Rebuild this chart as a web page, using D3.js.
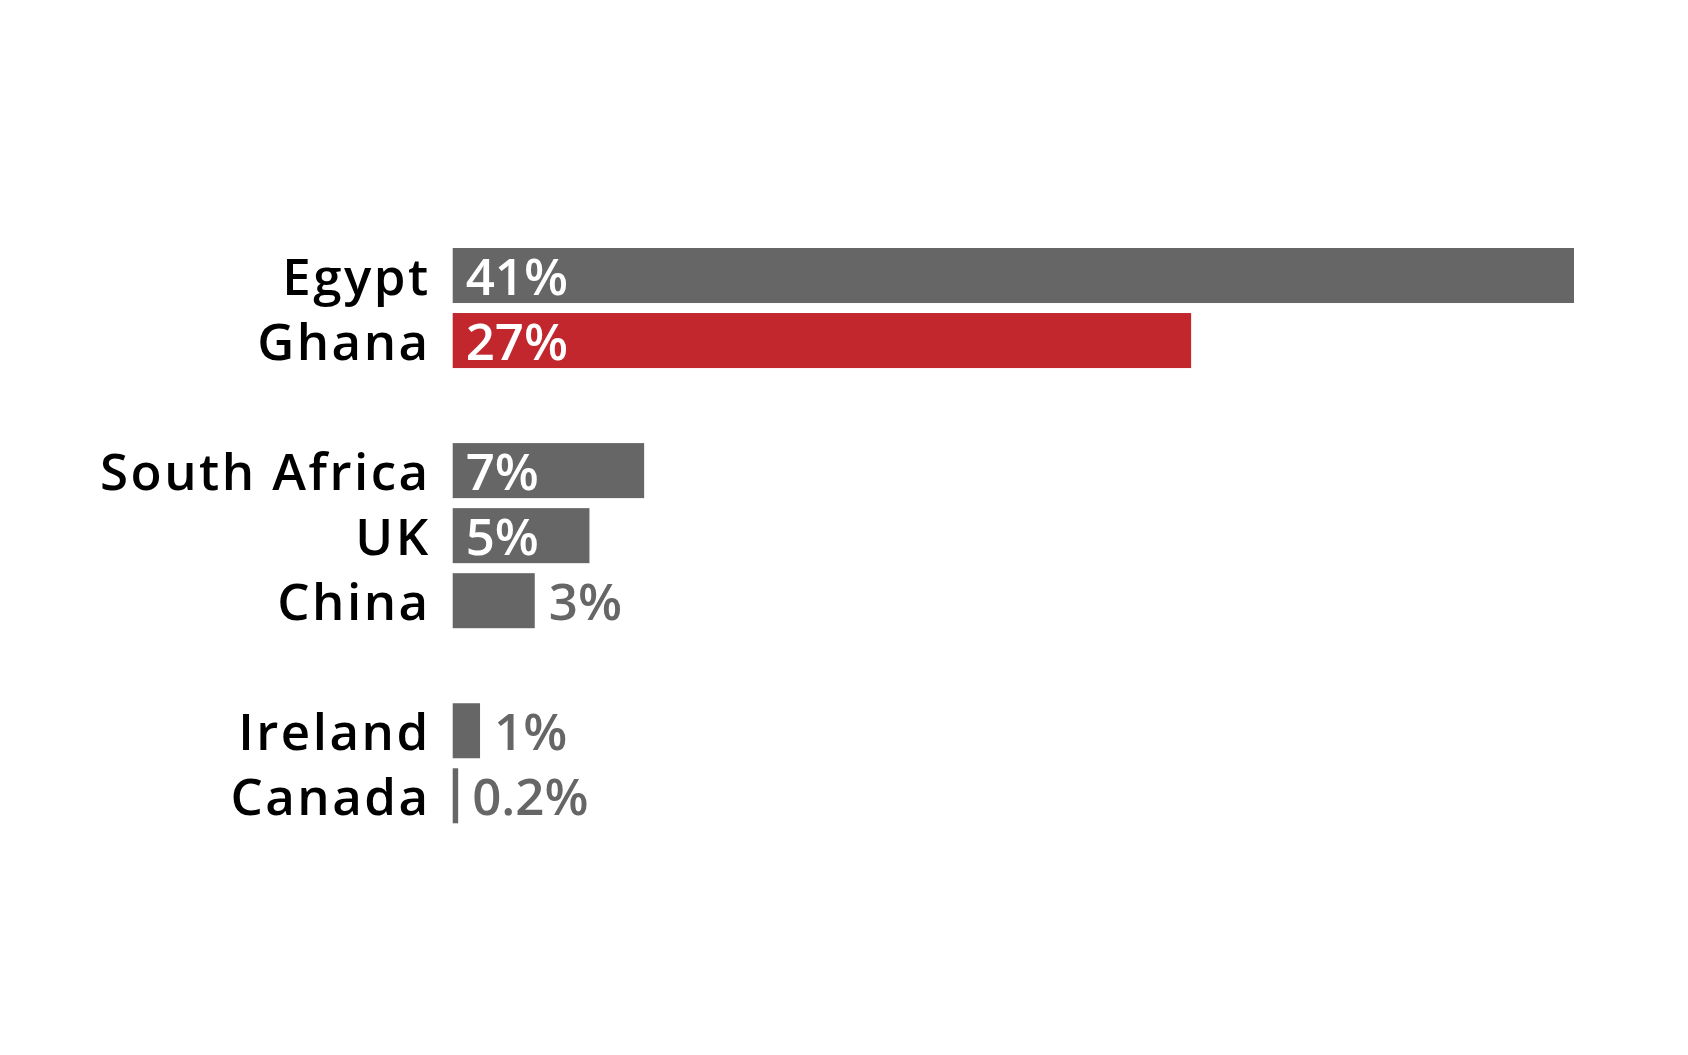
<!DOCTYPE html>
<html>
<head>
<meta charset="utf-8">
<script src="https://cdn.jsdelivr.net/npm/d3@7"></script>
<style>
  body { margin: 0; background: #fff; }
  svg { display: block; }
  .country { font-family: "Open Sans", sans-serif; font-weight: 600; font-size: 51px; letter-spacing: 2.5px; fill: #000; }
  .value { font-family: "Open Sans", sans-serif; font-weight: 600; font-size: 51px; }
</style>
</head>
<body>
<div id="chart"></div>
<script>
const countries = ['Egypt', 'Ghana', 'South Africa', 'UK', 'China', 'Ireland', 'Canada'];
const shares = [41, 27, 7, 5, 3, 1, 0.2];
const shareLabels = ['41%', '27%', '7%', '5%', '3%', '1%', '0.2%'];
const groups = [0, 0, 1, 1, 1, 2, 2];
const highlight = 'Ghana';

const width = 1688;
const height = 1055;

const svg = d3.select('#chart').append('svg')
  .attr('width', width)
  .attr('height', height);

// one empty slot between groups
const slots = [];
countries.forEach((c, i) => {
  if (i > 0 && groups[i] !== groups[i - 1]) slots.push('gap' + i);
  slots.push(c);
});

const x = d3.scaleLinear()
  .domain([0, 41])
  .range([452.7, 1574]);

const y = d3.scaleBand()
  .domain(slots)
  .range([248, 823.3])
  .paddingInner(0.154)
  .paddingOuter(0);

const rows = countries.map((c, i) => ({ name: c, value: shares[i], label: shareLabels[i] }));

const row = svg.selectAll('g.row')
  .data(rows)
  .join('g')
  .attr('class', 'row');

row.append('rect')
  .attr('x', x(0))
  .attr('y', d => y(d.name))
  .attr('width', d => x(d.value) - x(0))
  .attr('height', y.bandwidth())
  .attr('fill', d => d.name === highlight ? '#c1272d' : '#666666');

row.append('text')
  .attr('class', 'country')
  .attr('x', x(0) - 22)
  .attr('y', d => y(d.name) + y.bandwidth() / 2 + 19)
  .attr('text-anchor', 'end')
  .text(d => d.name);

row.append('text')
  .attr('class', 'value')
  .attr('y', d => y(d.name) + y.bandwidth() / 2 + 19)
  .text(d => d.label)
  .each(function(d) {
    const t = d3.select(this);
    const w = this.getComputedTextLength();
    const barW = x(d.value) - x(0);
    if (w + 28 < barW) {
      t.attr('x', x(0) + 13).attr('fill', '#fff');
    } else {
      t.attr('x', x(d.value) + 14).attr('fill', '#666666');
    }
  });
</script>
</body>
</html>
